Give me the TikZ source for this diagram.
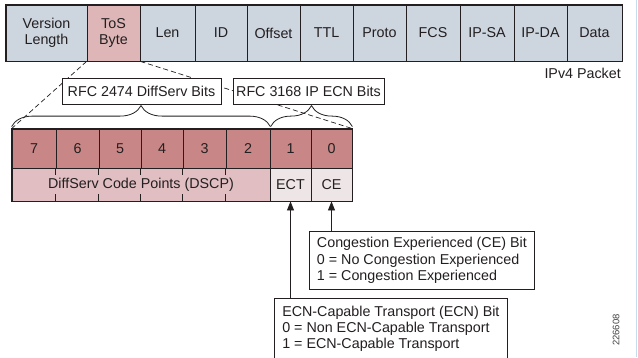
\documentclass[tikz,border=0pt]{standalone}
\usepackage{fontspec}
\setmainfont{Liberation Sans}
\usetikzlibrary{arrows.meta,decorations.pathreplacing}

\definecolor{hdrfill}{RGB}{205,213,223}
\definecolor{tosfill}{RGB}{222,182,183}
\definecolor{bitfill}{RGB}{200,135,134}
\definecolor{dscpfill}{RGB}{224,190,193}
\definecolor{ecnfill}{RGB}{237,229,230}
\definecolor{ink}{RGB}{35,31,32}
\definecolor{edgeblue}{RGB}{196,222,238}

\begin{document}
\begin{tikzpicture}[x=1pt,y=-1pt,
  font=\fontsize{14.3}{16.5}\selectfont,
  cell/.style={draw=ink, line width=0.8pt, inner sep=0pt, text=ink, align=center},
  hdr/.style={cell, fill=hdrfill, minimum height=56pt},
  bit/.style={cell, fill=bitfill, minimum height=39pt},
  low/.style={cell, minimum height=33pt},
  labelbox/.style={draw=ink, line width=0.8pt, fill=white, text=ink, inner sep=0pt, minimum height=26pt},
  notebox/.style={draw=ink, line width=0.8pt, fill=white, text=ink, inner sep=0pt, align=left},
  zoomline/.style={draw=ink, line width=0.7pt, dash pattern=on 5pt off 3pt},
  bracket/.style={draw=ink, line width=0.8pt, decorate, decoration={brace, amplitude=21pt, aspect=0.5}},
  pointer/.style={draw=ink, line width=0.8pt, -{Triangle[width=7pt,length=9pt]}}
]
\clip (0,0) rectangle (638,357);
\fill[white] (0,0) rectangle (638,357);
\draw[edgeblue, line width=1pt] (636.5,0) -- (636.5,357);

% IPv4 header fields
\node[hdr, minimum width=81pt] (ver) at (46.5,33) {Version\\Length};
\node[hdr, fill=tosfill, minimum width=53pt] (tos) at (113.5,33) {ToS\\Byte};
\node[hdr, minimum width=55pt] (len) at (167.5,33) {Len};
\node[hdr, minimum width=52pt] (id) at (221,33) {ID};
\node[hdr, minimum width=53pt] (off) at (273.5,33) {Offset};
\node[hdr, minimum width=53pt] (ttl) at (326.5,33) {TTL};
\node[hdr, minimum width=53pt] (proto) at (379.5,33) {Proto};
\node[hdr, minimum width=54pt] (fcs) at (433,33) {FCS};
\node[hdr, minimum width=54pt] (sa) at (487,33) {IP-SA};
\node[hdr, minimum width=53pt] (da) at (540.5,33) {IP-DA};
\node[hdr, minimum width=55pt] (data) at (594.5,33) {Data};
\draw[ink, line width=1.4pt] (ver.north west) rectangle (data.south east);
\node[anchor=base east, text=ink, inner sep=0pt] (pkt) at (621,78) {IPv4 Packet};

% ToS byte bits
\node[bit, minimum width=44pt] (b7) at (34,148.5) {7};
\node[bit, minimum width=43pt] (b6) at (77.5,148.5) {6};
\node[bit, minimum width=42pt] (b5) at (120,148.5) {5};
\node[bit, minimum width=42pt] (b4) at (162,148.5) {4};
\node[bit, minimum width=43pt] (b3) at (204.5,148.5) {3};
\node[bit, minimum width=44pt] (b2) at (248,148.5) {2};
\node[bit, minimum width=41pt] (b1) at (290.5,148.5) {1};
\node[bit, minimum width=41pt] (b0) at (331.5,148.5) {0};

% zoom lines from the ToS field down to the bit table
\draw[zoomline] (tos.south west) -- (b7.north west);
\draw[zoomline] (tos.south east) -- (b0.north east);

% field names
\node[labelbox, minimum width=159pt] (rfcA) at (141.5,91) {RFC 2474 DiffServ Bits};
\node[labelbox, minimum width=151pt] (rfcB) at (308.5,91) {RFC 3168 IP ECN Bits};

\node[low, fill=dscpfill, minimum width=258pt] (dscp) at (141,184.5) {DiffServ Code Points (DSCP)};
\node[low, fill=ecnfill, minimum width=41pt] (ect) at (290.5,184.5) {ECT};
\node[low, fill=ecnfill, minimum width=41pt] (ce) at (331.5,184.5) {CE};
\foreach \n in {b6,b5,b4,b3,b2} {
  \draw[ink, line width=0.8pt] (\n.south west) -- ++(0,7);
  \draw[ink, line width=0.8pt] (\n.south west |- dscp.south) -- ++(0,-7);
}
\draw[ink, line width=1.4pt] (b7.north west) rectangle (ce.south east);

% braces grouping the bits
\draw[bracket] ([yshift=2pt]b7.north west) -- ([yshift=2pt]b2.north east);
\draw[bracket] ([xshift=1pt,yshift=2pt]b1.north west) -- ([yshift=2pt]b0.north east);

% explanations of the ECN bits
\node[notebox, minimum width=225pt, minimum height=58pt, anchor=north west] (cebox) at (309,231)
  {Congestion Experienced (CE) Bit\\0 = No Congestion Experienced\\1 = Congestion Experienced};
\node[notebox, draw=none, fill=none, minimum width=233pt, minimum height=60pt, anchor=north west,
  font=\fontsize{14.3}{16}\selectfont] (ecnbox) at (274,298)
  {ECN-Capable Transport (ECN) Bit\\0 = Non ECN-Capable Transport\\1 = ECN-Capable Transport};
\draw[ink, line width=0.8pt] ([yshift=-4pt]ecnbox.south west) -- (ecnbox.north west)
  -- (ecnbox.north east) -- ([yshift=-4pt]ecnbox.south east);

\draw[pointer] (ect.south |- ecnbox.north) -- (ect.south);
\draw[pointer] (ce.south |- cebox.north) -- (ce.south);

\node[rotate=90, text=ink!85, font=\fontsize{9.5}{10}\selectfont] (fig) at (616,330) {226608};
\end{tikzpicture}
\end{document}
